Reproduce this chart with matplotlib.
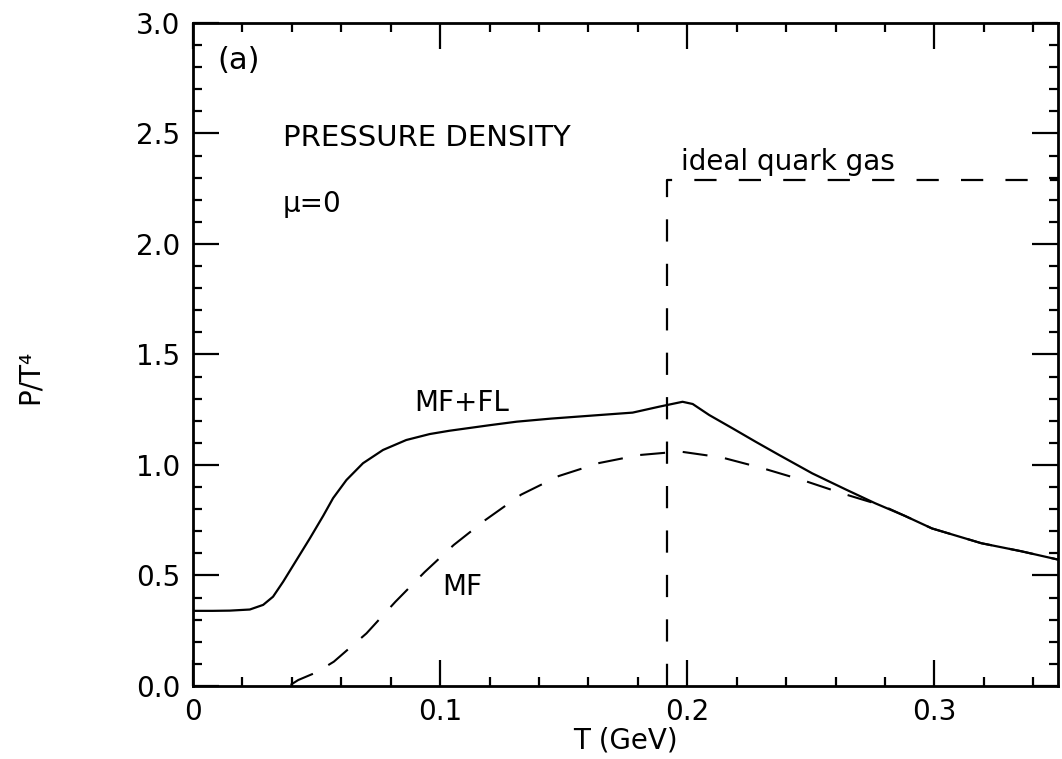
#!/usr/bin/env python3
# pressure density P/T^4 vs T, panel (a)
import numpy as np
import matplotlib
matplotlib.use('Agg')
import matplotlib.pyplot as plt
from matplotlib.ticker import FixedLocator, MultipleLocator

# --- data ---
T_fl = [0.0, 0.008, 0.0149, 0.023, 0.0284, 0.0324, 0.0365, 0.0419, 0.0473,
        0.0527, 0.0567, 0.0621, 0.0688, 0.0769, 0.0863, 0.0958, 0.1038, 0.120,
        0.131, 0.145, 0.1644, 0.1779, 0.1887, 0.1981, 0.2022, 0.2089, 0.2183,
        0.2277, 0.2372, 0.2506, 0.264, 0.276, 0.288, 0.299, 0.319, 0.335, 0.350]
P_fl = [0.340, 0.340, 0.341, 0.346, 0.367, 0.404, 0.472, 0.570, 0.668,
        0.770, 0.850, 0.932, 1.008, 1.068, 1.113, 1.140, 1.155, 1.180,
        1.196, 1.210, 1.226, 1.237, 1.264, 1.286, 1.276, 1.226, 1.166,
        1.105, 1.045, 0.962, 0.890, 0.827, 0.770, 0.713, 0.646, 0.610, 0.572]

T_mf = [0.0395, 0.0426, 0.050, 0.057, 0.0702, 0.0819, 0.0937, 0.1055, 0.1183,
        0.1328, 0.148, 0.1644, 0.1806, 0.197, 0.214, 0.2303, 0.2465, 0.2634,
        0.279, 0.288, 0.299, 0.319, 0.335, 0.350]
P_mf = [0.005, 0.027, 0.062, 0.110, 0.238, 0.381, 0.515, 0.638, 0.751,
        0.866, 0.950, 1.009, 1.045, 1.061, 1.034, 0.986, 0.932, 0.869,
        0.816, 0.770, 0.713, 0.646, 0.610, 0.572]

# ideal quark gas step
T_gas = [0.192, 0.192, 0.350]
P_gas = [0.0, 2.29, 2.29]

xticks = [0, 0.1, 0.2, 0.3]
xtick_labels = ['0', '0.1', '0.2', '0.3']
yticks = [0.0, 0.5, 1.0, 1.5, 2.0, 2.5, 3.0]
ytick_labels = ['0.0', '0.5', '1.0', '1.5', '2.0', '2.5', '3.0']

plt.rcParams['font.family'] = ['DejaVu Sans']
FS = 20

fig = plt.figure(figsize=(10.62, 7.59), dpi=100)
ax = fig.add_axes([0.1817, 0.0962, 0.9962 - 0.1817, 0.9697 - 0.0962])

ax.plot(T_fl, P_fl, color='black', lw=1.6, solid_joinstyle='round')
ax.plot(T_mf, P_mf, color='black', lw=1.5, linestyle=(0, (12, 8.5)))
ax.plot(T_gas, P_gas, color='black', lw=1.6, linestyle=(0, (10, 10)))

ax.set_xlim(0, 0.35)
ax.set_ylim(0, 3.0)

ax.xaxis.set_major_locator(FixedLocator(xticks))
ax.set_xticklabels(xtick_labels)
ax.yaxis.set_major_locator(FixedLocator(yticks))
ax.set_yticklabels(ytick_labels)
ax.xaxis.set_minor_locator(MultipleLocator(0.02))
ax.yaxis.set_minor_locator(MultipleLocator(0.1))

ax.tick_params(which='both', direction='in', top=True, right=True,
               labelsize=FS, width=1.6, pad=9)
ax.tick_params(which='major', length=19)
ax.tick_params(which='minor', length=6.5)
for sp in ax.spines.values():
    sp.set_linewidth(2.0)

ax.set_xlabel('T (GeV)', fontsize=FS, labelpad=0)
fig.text(0.028, 0.503, 'P/T\u2074', rotation=90, ha='center', va='center',
         fontsize=FS)

ax.text(0.0097, 2.83, '(a)', fontsize=22, ha='left', va='center')
ax.text(0.0364, 2.48, 'PRESSURE DENSITY', fontsize=21, ha='left', va='center')
ax.text(0.0364, 2.18, '\u03bc=0', fontsize=FS, ha='left', va='center')
ax.text(0.1976, 2.37, 'ideal quark gas', fontsize=FS, ha='left', va='center')
ax.text(0.0897, 1.28, 'MF+FL', fontsize=FS, ha='left', va='center')
ax.text(0.101, 0.448, 'MF', fontsize=FS, ha='left', va='center')

fig.savefig('out.png', dpi=100, facecolor='white')
